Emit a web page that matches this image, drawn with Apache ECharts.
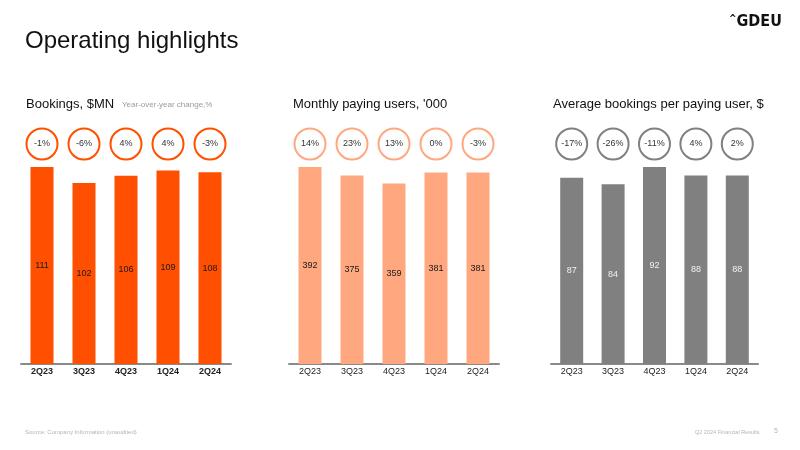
<!DOCTYPE html>
<html><head><meta charset="utf-8">
<script src="https://cdn.jsdelivr.net/npm/echarts@6/dist/echarts.min.js"></script>
<style>html,body{margin:0;padding:0;background:#fff}#c{width:800px;height:450px}</style>
</head><body><div id="c"></div>
<script>
const categories = ['2Q23','3Q23','4Q23','1Q24','2Q24'];
const bookings = [111,102,106,109,108];
const bookingsYoY = ['-1%','-6%','4%','4%','-3%'];
const payingUsers = [392,375,359,381,381];
const payingUsersYoY = ['14%','23%','13%','0%','-3%'];
const abpu = [87,84,92,88,88];
const abpuYoY = ['-17%','-26%','-11%','4%','2%'];

const FONT = 'Liberation Sans, Arial, sans-serif';
const panels = [
  {title:'Bookings, $MN', values:bookings, yoy:bookingsYoY, left:21, width:210, color:'#FF4F00', ring:'#FF4F00', lbl:'#1a1a1a', axisBold:true},
  {title:"Monthly paying users, '000", values:payingUsers, yoy:payingUsersYoY, left:289, width:210, color:'#FFA77E', ring:'#FFA77E', lbl:'#1a1a1a', axisBold:false},
  {title:'Average bookings per paying user, $', values:abpu, yoy:abpuYoY, left:551, width:207, color:'#808080', ring:'#808080', lbl:'#f2f2f2', axisBold:false}
];

const grid=[], xAxis=[], yAxis=[], series=[];
panels.forEach((p,k)=>{
  grid.push({left:p.left, width:p.width, top:167, bottom:86, containLabel:false});
  xAxis.push({type:'category', gridIndex:2*k, data:categories,
    axisLine:{lineStyle:{color:'#8a8a8a', width:2}}, axisTick:{show:false},
    axisLabel:{color:'#222', fontSize:9, fontFamily:FONT, fontWeight:p.axisBold?'bold':'normal', margin:3}});
  yAxis.push({type:'value', gridIndex:2*k, min:0, max:'dataMax', show:false, splitLine:{show:false}});
  series.push({type:'bar', xAxisIndex:2*k, yAxisIndex:2*k, data:p.values, barWidth:23,
    itemStyle:{color:p.color}, label:{show:true, position:'inside', color:p.lbl, fontSize:9, fontFamily:FONT}});
  grid.push({left:p.left, width:p.width, top:128, height:32});
  xAxis.push({type:'category', gridIndex:2*k+1, data:categories, show:false});
  yAxis.push({type:'value', gridIndex:2*k+1, min:0, max:1, show:false});
  series.push({type:'scatter', xAxisIndex:2*k+1, yAxisIndex:2*k+1, symbol:'circle', symbolSize:31,
    data:categories.map((c,i)=>({value:[c,0.5], name:p.yoy[i]})),
    itemStyle:{color:'#fff', borderColor:p.ring, borderWidth:2, opacity:1},
    label:{show:true, position:'inside', formatter:d=>d.name, color:'#333', fontSize:9, fontFamily:FONT},
    emphasis:{disabled:true}, silent:true, z:5});
});

const title = [
  {text:'Operating highlights', left:25, top:29, padding:0, textStyle:{fontSize:24, fontWeight:'normal', color:'#111', fontFamily:FONT}},
  {text:'{a|^}GDEU', left:729, top:14, padding:0, textStyle:{fontSize:16, fontWeight:'bold', color:'#111', fontFamily:'DejaVu Sans Condensed, sans-serif', rich:{a:{fontSize:10, fontWeight:'bold', verticalAlign:'top', color:'#111'}}}},
  {text:'Bookings, $MN', left:26, top:98, padding:0, textStyle:{fontSize:13, fontWeight:'normal', color:'#111', fontFamily:FONT}},
  {text:'Year-over-year change,%', left:122, top:101, padding:0, textStyle:{fontSize:8, fontWeight:'normal', color:'#9a9a9a', fontFamily:FONT}},
  {text:"Monthly paying users, '000", left:293, top:98, padding:0, textStyle:{fontSize:13, fontWeight:'normal', color:'#111', fontFamily:FONT}},
  {text:'Average bookings per paying user, $', left:553, top:98, padding:0, textStyle:{fontSize:13, fontWeight:'normal', color:'#111', fontFamily:FONT}},
  {text:'Source: Company Information (unaudited)', left:25, top:429, padding:0, textStyle:{fontSize:6, fontWeight:'normal', color:'#b5b5b5', fontFamily:FONT}},
  {text:'Q2 2024 Financial Results', left:695, top:429, padding:0, textStyle:{fontSize:5.5, fontWeight:'normal', color:'#b5b5b5', fontFamily:FONT}},
  {text:'5', left:774, top:428, padding:0, textStyle:{fontSize:7, fontWeight:'normal', color:'#b5b5b5', fontFamily:FONT}}
];

const chart = echarts.init(document.getElementById('c'), null, {renderer:'canvas'});
chart.setOption({animation:false, backgroundColor:'#fff', title, grid, xAxis, yAxis, series});
</script></body></html>
